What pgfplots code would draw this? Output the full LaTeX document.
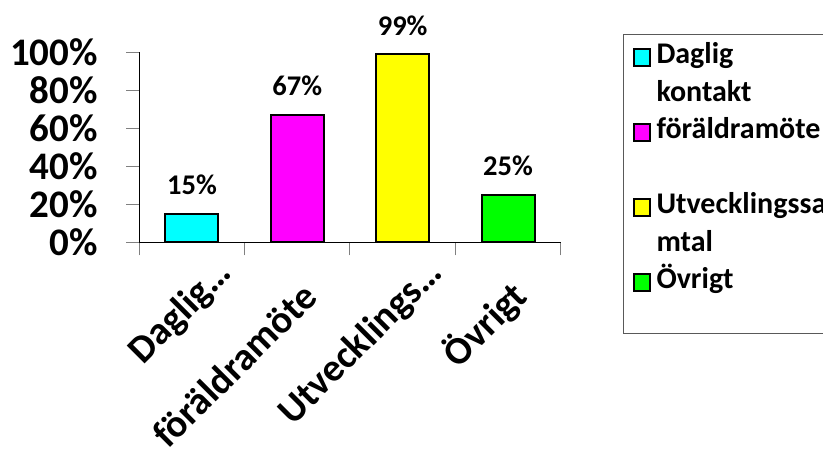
\documentclass[border=0pt]{standalone}
\usepackage{pgfplots}
\pgfplotsset{compat=1.18}
\usepackage{fontspec}
\setmainfont{Carlito}
\definecolor{cyanbar}{RGB}{0,255,255}
\definecolor{magbar}{RGB}{255,0,255}
\definecolor{yelbar}{RGB}{255,255,0}
\definecolor{grnbar}{RGB}{0,255,0}
\begin{document}
\begin{tikzpicture}
\useasboundingbox (0,0) rectangle (823pt,450pt);
\clip (0,0) rectangle (823pt,450pt);
\begin{axis}[
  at={(139.3pt,207.7pt)}, anchor=south west,
  scale only axis, width=421.4pt, height=190pt,
  xmin=-0.5, xmax=3.5, ymin=0, ymax=100,
  axis x line*=bottom, axis y line*=left,
  axis line style={line width=1.3pt, black, -},
  ytick={0,20,40,60,80,100},
  yticklabels={0\%,20\%,40\%,60\%,80\%,100\%},
  xtick={0,1,2,3},
  xticklabels={Daglig…,föräldramöte\hspace*{31pt},Utvecklings…,Övrigt\hspace*{31pt}},
  minor xtick={-0.5,0.5,1.5,2.5,3.5},
  tick align=outside, major tick length=13pt, minor tick length=13pt,
  tick style={gray, line width=1pt},
  major x tick style={draw=none},
  yticklabel style={font=\fontsize{39}{39}\selectfont\bfseries, anchor=east, xshift=-25pt},
  xticklabel style={font=\fontsize{39}{39}\selectfont\bfseries, rotate=45, anchor=east, xshift=19pt, yshift=-33pt},
  ybar, bar width=53pt,
  /pgf/number format/assume math mode=true,
  nodes near coords={\pgfmathprintnumber{\pgfplotspointmeta}\%},
  every node near coord/.append style={font=\fontsize{28.5}{28.5}\selectfont\bfseries, anchor=base, yshift=19pt, black},
  legend cell align=left,
  legend style={at={(axis description cs:1.1479,1.0963)}, anchor=north west,
    draw=gray!70!black, line width=1pt, inner xsep=9pt, inner ysep=3pt,
    row sep=0pt, column sep=6pt,
    font=\fontsize{30}{37.5}\selectfont\bfseries,
    cells={anchor=base west}, nodes={inner sep=0pt, text height=26pt, text depth=11.5pt}},
  sq/.style={legend image code/.code={\draw[##1, line width=2pt, draw=black] (0pt,-2pt) rectangle (16pt,15pt);}},
]
\addplot[fill=cyanbar, draw=black, line width=2pt, bar shift=0pt, sq] coordinates {(0,15)};
\addlegendentry{Daglig}
\addlegendimage{empty legend}
\addlegendentry{kontakt}
\addplot[fill=magbar, draw=black, line width=2pt, bar shift=0pt, sq] coordinates {(1,67)};
\addlegendentry{föräldramöte}
\addlegendimage{empty legend}
\addlegendentry{}
\addplot[fill=yelbar, draw=black, line width=2pt, bar shift=0pt, sq] coordinates {(2,99)};
\addlegendentry{Utvecklingssa}
\addlegendimage{empty legend}
\addlegendentry{mtal}
\addplot[fill=grnbar, draw=black, line width=2pt, bar shift=0pt, sq] coordinates {(3,25)};
\addlegendentry{Övrigt}
\addlegendimage{empty legend}
\addlegendentry[text height=30.5pt, text depth=0pt]{}
\end{axis}
\end{tikzpicture}
\end{document}
